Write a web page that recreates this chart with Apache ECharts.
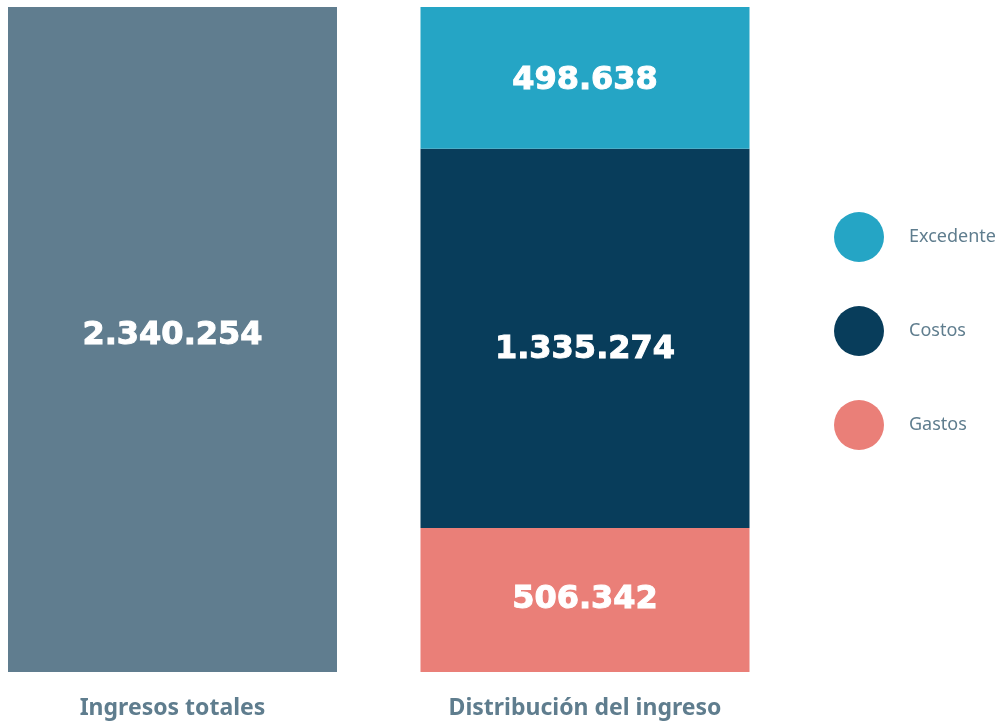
<!DOCTYPE html>
<html>
<head>
<meta charset="utf-8">
<script src="https://cdn.jsdelivr.net/npm/echarts@6/dist/echarts.min.js"></script>
<style>
  html, body { margin: 0; padding: 0; background: #fff; }
  #chart { width: 998px; height: 723px; }
</style>
</head>
<body>
<div id="chart"></div>
<script>
// datos
const categories = ['Ingresos totales', 'Distribución del ingreso'];
const ingresos = [2340254, '-'];
const gastos = ['-', 506342];
const costos = ['-', 1335274];
const excedente = ['-', 498638];
const legendNames = ['Excedente', 'Costos', 'Gastos'];

const COLORS = {
    ingresos: '#607d8f',
    excedente: '#25a5c5',
    costos: '#083d5b',
    gastos: '#ea7f78',
    text: '#5f7d8e'
};

// separador de miles con punto
function fmt(v) {
    return String(v).replace(/\B(?=(\d{3})+(?!\d))/g, '.');
}

const chart = echarts.init(document.getElementById('chart'));

function barLabel(dy) {
    return {
        show: true,
        position: 'inside',
        offset: [0, dy],
        color: '#fff',
        fontFamily: 'DejaVu Sans',
        fontWeight: 'bold',
        fontSize: 32,
        textBorderColor: '#fff',
        textBorderWidth: 1,
        formatter: p => fmt(p.value)
    };
}

function barSeries(name, data, color, dy) {
    return {
        name: name,
        type: 'bar',
        stack: 'total',
        barWidth: 329,
        clip: false,
        data: data,
        itemStyle: { color: color },
        label: barLabel(dy)
    };
}

// boundaryGap false: cada categoria cae en un extremo del eje,
// asi los centros de barra quedan en x=172.5 y x=585
chart.setOption({
    animation: false,
    grid: { left: 172.5, right: 413, top: 7, bottom: 51 },
    legend: {
        orient: 'vertical',
        left: 829,
        top: 207,
        itemWidth: 50,
        itemHeight: 50,
        itemGap: 44,
        icon: 'circle',
        data: legendNames,
        textStyle: {
            color: COLORS.text,
            fontFamily: 'Noto Sans',
            fontSize: 18,
            padding: [0, 0, 0, 20]
        }
    },
    xAxis: {
        type: 'category',
        boundaryGap: false,
        data: categories,
        axisLine: { show: false },
        axisTick: { show: false },
        axisLabel: {
            margin: 25,
            color: COLORS.text,
            fontFamily: 'Noto Sans',
            fontWeight: 'bold',
            fontSize: 23
        }
    },
    yAxis: {
        type: 'value',
        min: 0,
        max: 2340254,
        show: false
    },
    series: [
        barSeries('Ingresos totales', ingresos, COLORS.ingresos, -4),
        barSeries('Gastos', gastos, COLORS.gastos, 0),
        barSeries('Costos', costos, COLORS.costos, 11),
        barSeries('Excedente', excedente, COLORS.excedente, 3)
    ]
});
</script>
</body>
</html>
